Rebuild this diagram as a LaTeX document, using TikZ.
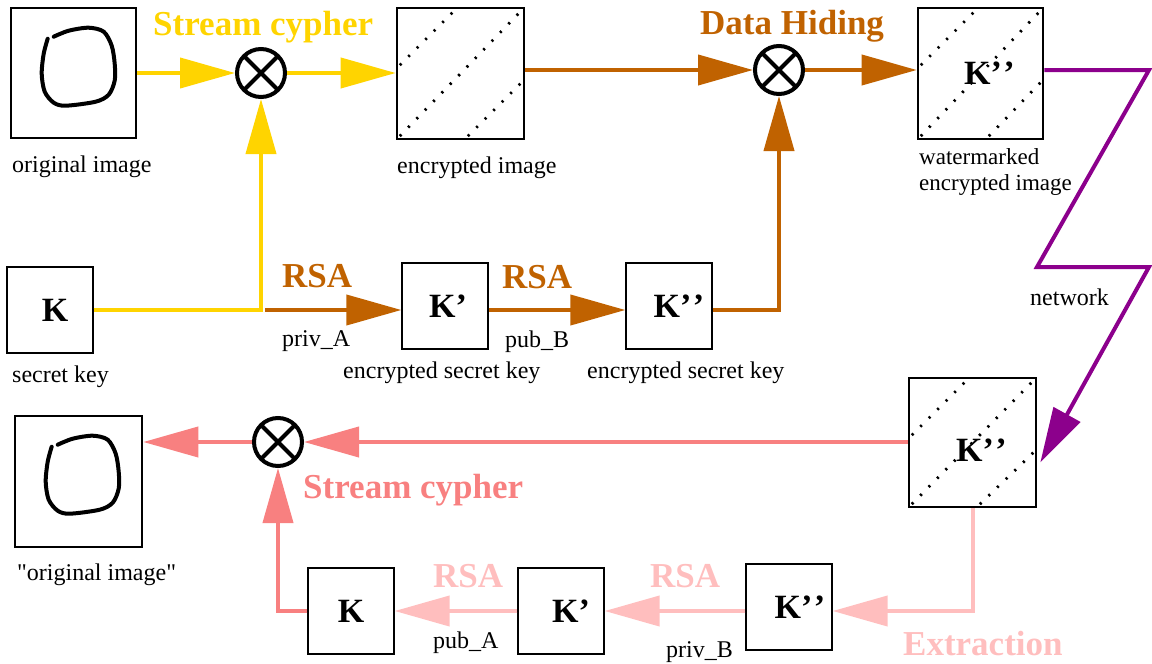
\documentclass[tikz,border=0pt]{standalone}
\usepackage{fontspec}
\setmainfont{Liberation Serif}
\newfontfamily\rawserif{Liberation Serif}
\usetikzlibrary{arrows.meta,calc}
\definecolor{ylw}{RGB}{255,212,0}
\definecolor{brn}{RGB}{192,98,0}
\definecolor{prp}{RGB}{140,0,140}
\definecolor{slm}{RGB}{248,128,128}
\definecolor{pale}{RGB}{255,190,190}
\newcommand{\kpp}{K’\kern1.5pt’}
\begin{document}
\begin{tikzpicture}[x=1pt,y=-1pt,
  imgbox/.style={draw, line width=2.6pt, inner sep=0pt, minimum width=125pt, minimum height=130pt},
  keybox/.style={draw, line width=1.3pt, inner sep=0pt, minimum width=86pt, minimum height=86pt},
  kfont/.style={font=\fontsize{34}{38}\selectfont\bfseries, inner sep=0pt},
  dotl/.style={line width=2.8pt, dash pattern=on 2.2pt off 9.8pt, dash phase=-4pt},
  encbox/.style={imgbox, path picture={
     \draw[dotl] ($(path picture bounding box.north west)+(0,60)$) -- ($(path picture bounding box.north west)+(60,0)$);
     \draw[dotl] (path picture bounding box.south west) -- (path picture bounding box.north east);
     \draw[dotl] ($(path picture bounding box.south west)+(68,0)$) -- ($(path picture bounding box.north east)+(0,72)$);
  }},
  xor/.style={circle, draw, line width=4pt, minimum size=48pt, inner sep=0pt, path picture={
     \draw[line width=4pt] (path picture bounding box.north west) -- (path picture bounding box.south east)
       (path picture bounding box.north east) -- (path picture bounding box.south west);}},
  conn/.style={line width=4pt, -{Triangle[length=55pt,width=30pt]}},
  small/.style={font=\fontsize{24}{26}\selectfont, inner sep=0pt, anchor=base west},
  big/.style={font=\fontsize{35}{40}\selectfont\bfseries, inner sep=0pt, anchor=base west},
  blob/.style={line width=4pt, line cap=round, line join=round}
]
\useasboundingbox (0,0) rectangle (1152,664);

% ---------- top row ----------
\node[imgbox] (orig1) at (73.5,73) {};
\draw[blob, shift={(orig1.north west)}] plot[smooth] coordinates {(44,30) (59,24) (79,21) (94,25) (102,39) (105,57) (105,74) (99,88) (86,95) (56,99) (44,96) (35,85) (32,67) (34,47) (38,32)};
\node[xor] (x1) at (261,73) {};
\node[encbox, minimum width=127pt, minimum height=131pt] (enc) at (460.5,73.5) {};
\node[xor] (x2) at (779,70) {};
\node[encbox, minimum width=125pt, minimum height=131pt,
      label={[kfont, xshift=9pt]center:\kpp}] (wm) at (980.5,73.5) {};

\node[keybox, label={[kfont, xshift=5pt]center:K}] (K1) at (50,310) {};
\node[keybox, label={[kfont, xshift=3pt]center:K’}] (Kp1) at (445,306) {};
\node[keybox, label={[kfont, xshift=10pt]center:\kpp}] (Kpp1) at (669,306) {};

% ---------- bottom ----------
\node[imgbox, minimum width=127pt, minimum height=131pt] (orig2) at (78.5,481.5) {};
\draw[blob, shift={(orig2.north west)}] plot[smooth] coordinates {(44,30) (59,24) (79,21) (94,25) (102,39) (105,57) (105,74) (99,88) (86,95) (56,99) (44,96) (35,85) (32,67) (34,47) (38,32)};
\node[xor] (x3) at (278,442) {};
\node[encbox, minimum width=127pt, minimum height=129pt,
      label={[kfont, xshift=9pt, yshift=-8pt]center:\kpp}] (Kbig) at (972.5,442.5) {};

\node[keybox, label={[kfont]center:K}] (Kb) at (351,611) {};
\node[keybox, label={[kfont, xshift=10pt]center:K’}] (Kpb) at (561,611) {};
\node[keybox, label={[kfont, xshift=11pt]center:\kpp}] (Kppb) at (789,607) {};

% ---------- texts ----------
\node[big, text=ylw] (t1) at (153,35) {Stream cypher};
\node[big, text=brn] (t2) at (700,34) {Data Hiding};
\node[small] (l1) at (12,172) {original image};
\node[small] (l2) at (397,173) {encrypted image};
\node[small, font=\fontsize{23}{26}\selectfont] (l3) at (919,164) {watermarked};
\node[small, font=\fontsize{23}{26}\selectfont] (l4) at (919,190) {encrypted image};
\node[small] (l5) at (12,382) {secret key};
\node[big, text=brn] (r1) at (282,287) {RSA};
\node[small] (p1) at (282,346) {priv\_A};
\node[big, text=brn] (r2) at (502,288) {RSA};
\node[small] (p2) at (505,347) {pub\_B};
\node[small] (l6) at (343,378) {encrypted secret key};
\node[small] (l7) at (587,378) {encrypted secret key};
\node[small] (l8) at (1030,305) {network};
\node[small, font=\fontsize{24}{26}\selectfont\rawserif] (l9) at (17,580) {"original image"};
\node[big, text=slm] (t3) at (303,498) {Stream cypher};
\node[big, text=pale] (r3) at (433,587) {RSA};
\node[small] (p3) at (433,648) {pub\_A};
\node[big, text=pale] (r4) at (650,587) {RSA};
\node[small] (p4) at (666,657) {priv\_B};
\node[big, text=pale] (t4) at (903,655) {Extraction};

% ---------- connectors ----------
% stream cypher (yellow)
\draw[conn, ylw] (orig1.east |- x1) -- (x1.west);
\draw[conn, ylw] (x1.east) -- (x1 -| enc.west);
\draw[conn, ylw, line join=miter] (K1.east) -| (x1.south);
% RSA chain (brown)
\coordinate (rs) at (265,310);
\draw[conn, brn] (rs) -- (rs -| Kp1.west);
\draw[conn, brn] (Kp1.east |- rs) -- (Kpp1.west |- rs);
\draw[conn, brn, line join=miter] (Kpp1.east |- rs) -| (x2.south);
% data hiding
\draw[conn, brn] (enc.east |- x2) -- (x2.west);
\draw[conn, brn] (x2.east) -- (x2 -| wm.west);
% network (purple)
\coordinate (n1) at (1149,70);
\coordinate (n2) at (1037,267);
\coordinate (n3) at (1149,267);
\coordinate (nt) at ($(Kbig.east)+(3,20)$);
\draw[conn, prp, line join=miter] (wm.east |- x2) -- (n1) -- (n2) -- (n3) -- (nt);
% decryption (salmon)
\draw[conn, slm] (Kbig.west |- x3) -- (x3.east);
\draw[conn, slm] (x3.west) -- (x3.west -| orig2.east);
\draw[conn, slm, line join=miter] (Kb.west) -| (x3.south);
% extraction (pale)
\draw[conn, pale, line join=miter] (Kbig.south) |- (Kppb.east |- Kb);
\draw[conn, pale] (Kppb.west |- Kb) -- (Kpb.east);
\draw[conn, pale] (Kpb.west) -- (Kb.east);
\end{tikzpicture}
\end{document}
